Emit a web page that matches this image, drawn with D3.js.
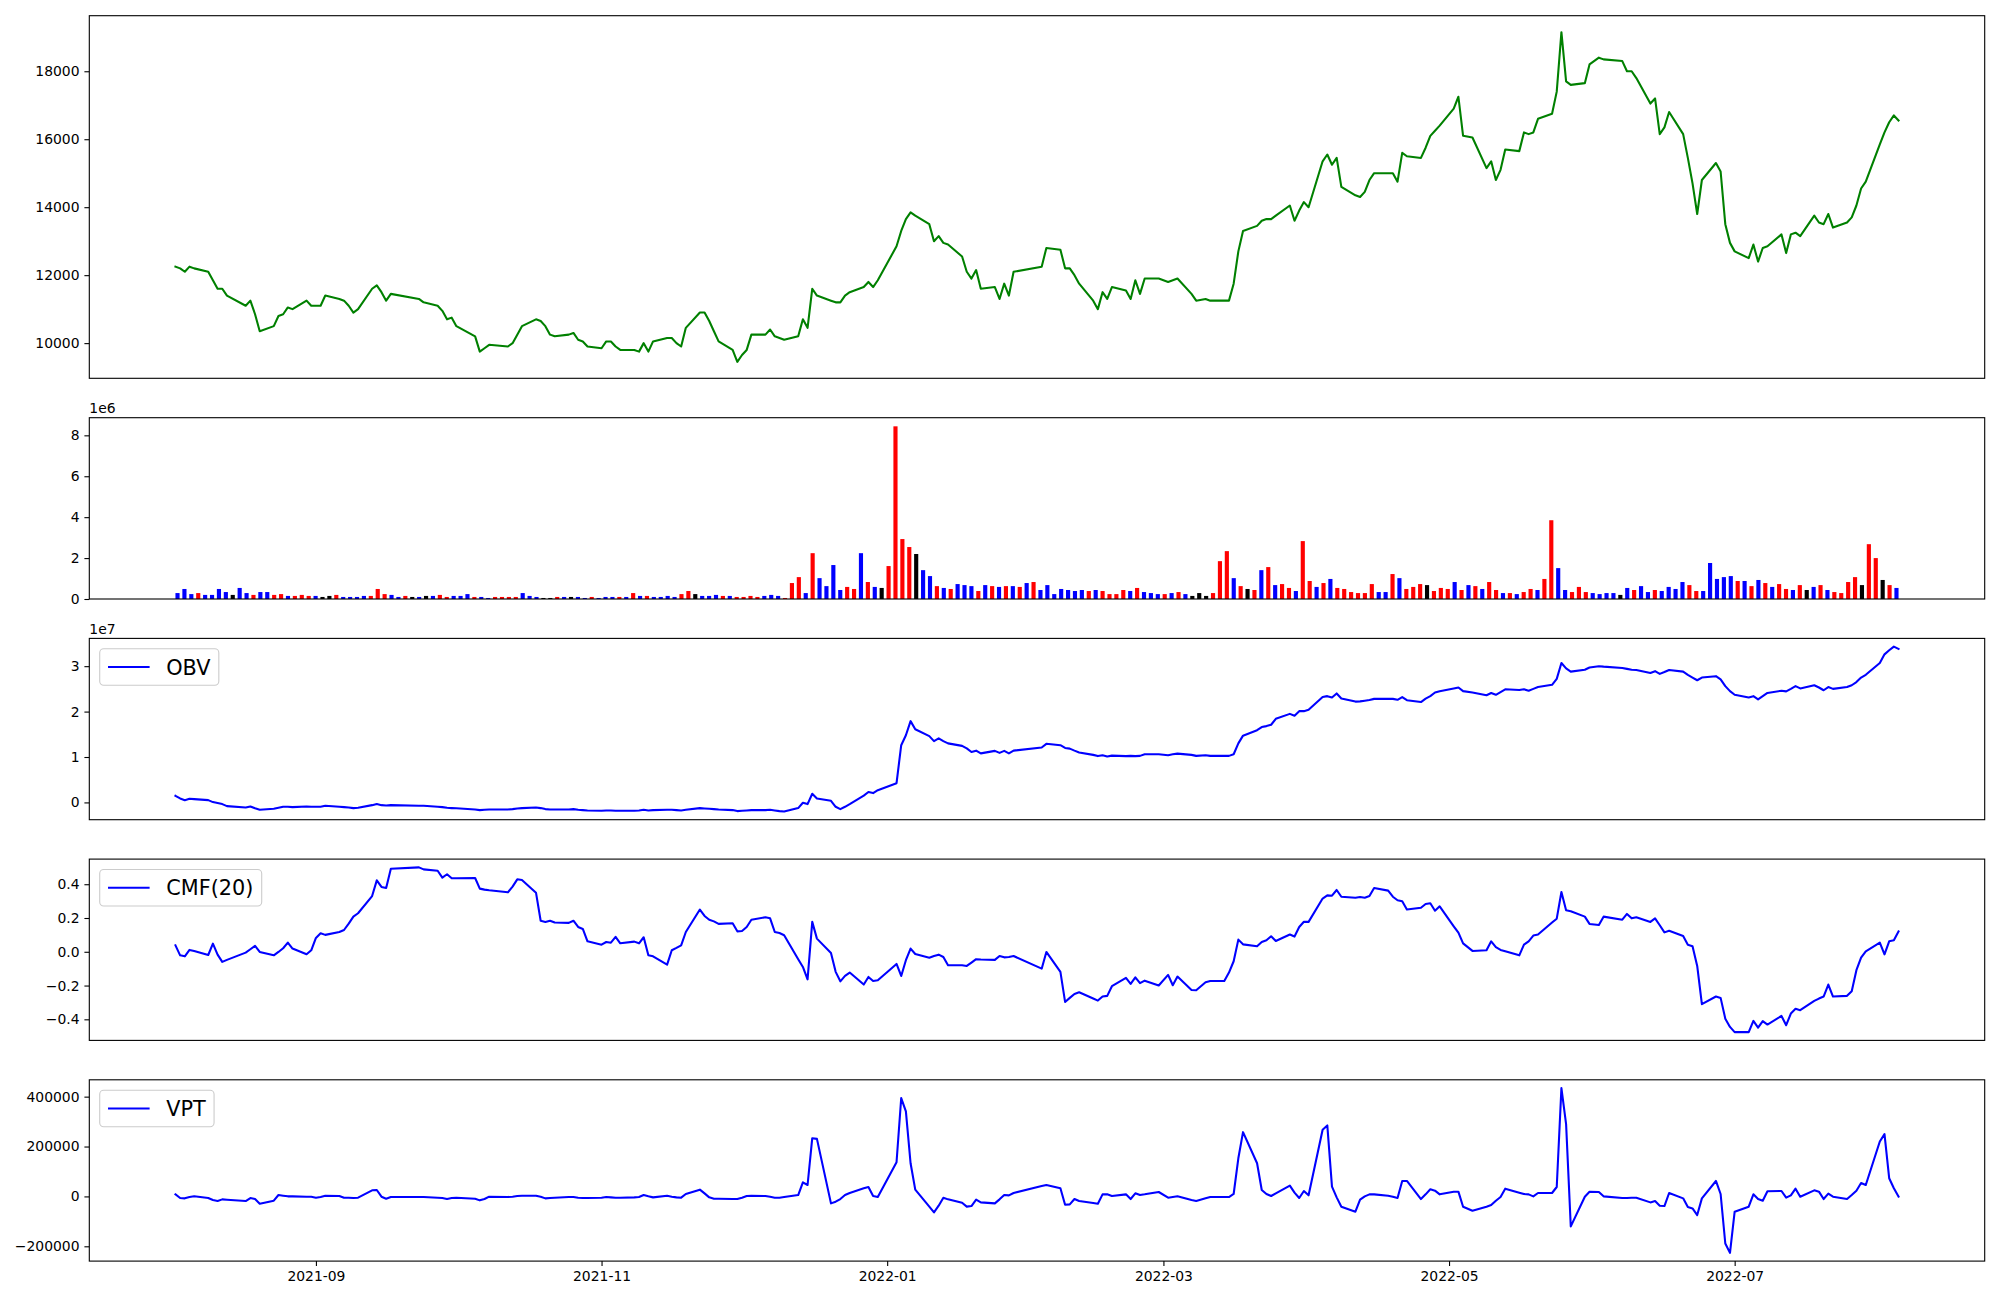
<!DOCTYPE html>
<html><head><meta charset="utf-8">
<script src="https://cdn.jsdelivr.net/npm/d3@7"></script>
<style>
html,body{margin:0;padding:0;background:#fff}
svg{display:block}
text{font-family:"DejaVu Sans",sans-serif}
</style>
</head><body>
<svg id="chart" width="2000" height="1300"></svg>
<script>
// ---------------- DATA ----------------
const dates = [
"2021-08-02","2021-08-03","2021-08-04","2021-08-05","2021-08-06","2021-08-09","2021-08-10","2021-08-11","2021-08-12","2021-08-13","2021-08-17","2021-08-18","2021-08-19","2021-08-20","2021-08-23","2021-08-24","2021-08-25","2021-08-26","2021-08-27","2021-08-30","2021-08-31",
"2021-09-01","2021-09-02","2021-09-03","2021-09-06","2021-09-07","2021-09-08","2021-09-09","2021-09-10","2021-09-13","2021-09-14","2021-09-15","2021-09-16","2021-09-17","2021-09-23","2021-09-24","2021-09-27","2021-09-28","2021-09-29","2021-09-30",
"2021-10-01","2021-10-05","2021-10-06","2021-10-07","2021-10-08","2021-10-12","2021-10-13","2021-10-14","2021-10-15","2021-10-18","2021-10-19","2021-10-20","2021-10-21","2021-10-22","2021-10-25","2021-10-26","2021-10-27","2021-10-28","2021-10-29",
"2021-11-01","2021-11-02","2021-11-03","2021-11-04","2021-11-05","2021-11-08","2021-11-09","2021-11-10","2021-11-11","2021-11-12","2021-11-15","2021-11-16","2021-11-17","2021-11-18","2021-11-19","2021-11-22","2021-11-23","2021-11-24","2021-11-25","2021-11-26","2021-11-29","2021-11-30",
"2021-12-01","2021-12-02","2021-12-03","2021-12-06","2021-12-07","2021-12-08","2021-12-09","2021-12-10","2021-12-13","2021-12-14","2021-12-15","2021-12-16","2021-12-17","2021-12-20","2021-12-21","2021-12-22","2021-12-23","2021-12-24","2021-12-27","2021-12-28","2021-12-29","2021-12-30",
"2022-01-03","2022-01-04","2022-01-05","2022-01-06","2022-01-07","2022-01-10","2022-01-11","2022-01-12","2022-01-13","2022-01-14","2022-01-17","2022-01-18","2022-01-19","2022-01-20","2022-01-21","2022-01-24","2022-01-25","2022-01-26","2022-01-27","2022-01-28",
"2022-02-03","2022-02-04","2022-02-07","2022-02-08","2022-02-09","2022-02-10","2022-02-11","2022-02-14","2022-02-15","2022-02-16","2022-02-17","2022-02-18","2022-02-21","2022-02-22","2022-02-23","2022-02-24","2022-02-25","2022-02-28",
"2022-03-02","2022-03-03","2022-03-04","2022-03-07","2022-03-08","2022-03-10","2022-03-11","2022-03-14","2022-03-15","2022-03-16","2022-03-17","2022-03-18","2022-03-21","2022-03-22","2022-03-23","2022-03-24","2022-03-25","2022-03-28","2022-03-29","2022-03-30","2022-03-31",
"2022-04-01","2022-04-04","2022-04-05","2022-04-06","2022-04-07","2022-04-08","2022-04-11","2022-04-12","2022-04-13","2022-04-14","2022-04-15","2022-04-18","2022-04-19","2022-04-20","2022-04-21","2022-04-22","2022-04-25","2022-04-26","2022-04-27","2022-04-28","2022-04-29",
"2022-05-02","2022-05-03","2022-05-04","2022-05-06","2022-05-09","2022-05-10","2022-05-11","2022-05-12","2022-05-13","2022-05-16","2022-05-17","2022-05-18","2022-05-19","2022-05-20","2022-05-23","2022-05-24","2022-05-25","2022-05-26","2022-05-27","2022-05-30","2022-05-31",
"2022-06-02","2022-06-03","2022-06-07","2022-06-08","2022-06-09","2022-06-10","2022-06-13","2022-06-14","2022-06-15","2022-06-16","2022-06-17","2022-06-20","2022-06-21","2022-06-22","2022-06-23","2022-06-24","2022-06-27","2022-06-28","2022-06-29","2022-06-30",
"2022-07-01","2022-07-04","2022-07-05","2022-07-06","2022-07-07","2022-07-08","2022-07-11","2022-07-12","2022-07-13","2022-07-14","2022-07-15","2022-07-18","2022-07-19","2022-07-20","2022-07-21","2022-07-22","2022-07-25","2022-07-26","2022-07-27","2022-07-28","2022-07-29",
"2022-08-01","2022-08-02","2022-08-03","2022-08-04","2022-08-05"
];

const closePrice = [
12250,12200,12100,12250,12200,12100,11850,11600,11600,11400,11100,11250,10850,10350,10500,10800,10850,11050,11000,11250,11100,
11100,11100,11400,11300,11250,11100,10900,11000,11600,11700,11500,11250,11450,11300,11200,11100,10950,10700,10750,
10500,10200,9750,9850,9950,9900,10000,10250,10500,10700,10650,10500,10250,10200,10250,10300,10100,10050,9900,
9850,10050,10050,9900,9800,9800,9750,10000,9750,10050,10150,10150,10000,9900,10450,10900,10900,10650,10350,10050,9800,9450,
9650,9800,10250,10250,10400,10200,10150,10100,10200,10700,10450,11600,11400,11250,11200,11200,11400,11500,11650,11800,11650,11850,
12850,13300,13650,13850,13750,13500,13000,13150,12950,12900,12550,12100,11900,12150,11600,11650,11300,11750,11400,12100,
12250,12800,12750,12200,12200,12000,11750,11250,11000,11500,11300,11650,11550,11300,11850,11450,11900,11900,
11800,11850,11900,11450,11250,11300,11250,11250,11250,11750,12700,13300,13450,13600,13650,13650,13750,14050,13600,13900,14150,
14000,15350,15550,15250,15450,14600,14350,14300,14450,14800,15000,15000,15000,14750,15600,15500,15450,15750,16100,16250,16400,
16900,17250,16100,16050,15150,15350,14800,15100,15700,15650,16200,16150,16200,16600,16750,17400,19150,17700,17600,17650,18200,
18400,18350,18300,18000,18000,17800,17050,17200,16150,16350,16800,16150,15450,14700,13800,14800,15300,15050,13500,12950,
12700,12500,12900,12400,12800,12850,13200,12650,13200,13250,13150,13750,13550,13500,13800,13400,13550,13700,14050,14550,14750,
15850,16200,16500,16700,16550
];

const volume = [
290000,490000,240000,290000,200000,200000,490000,340000,200000,540000,
290000,200000,340000,340000,200000,240000,150000,150000,200000,150000,
150000,100000,150000,200000,100000,100000,100000,150000,150000,490000,
240000,200000,100000,150000,100000,100000,150000,150000,200000,100000,
150000,150000,240000,100000,100000,50000,100000,100000,100000,100000,
290000,150000,100000,50000,50000,100000,100000,100000,100000,50000,
100000,50000,100000,100000,100000,100000,290000,150000,150000,100000,
100000,150000,100000,240000,390000,240000,150000,150000,200000,150000,
150000,100000,100000,150000,100000,150000,200000,150000,50000,780000,
1070000,290000,2240000,1020000,630000,1660000,440000,590000,490000,2240000,
830000,590000,540000,1610000,8440000,2930000,2540000,2200000,1410000,1120000,
630000,540000,490000,730000,680000,630000,390000,680000,630000,590000,
630000,630000,590000,780000,830000,440000,680000,240000,490000,440000,
390000,440000,390000,440000,390000,240000,240000,440000,390000,540000,
340000,290000,240000,240000,290000,340000,240000,150000,290000,150000,
290000,1850000,2340000,1020000,630000,490000,440000,1410000,1560000,680000,
730000,540000,390000,2830000,880000,590000,780000,980000,540000,490000,
340000,290000,290000,730000,340000,340000,1220000,1020000,490000,590000,
730000,680000,390000,540000,490000,830000,440000,680000,630000,490000,
830000,440000,290000,290000,240000,340000,490000,440000,980000,3850000,
1510000,440000,340000,590000,340000,290000,240000,290000,290000,200000,
540000,440000,630000,340000,440000,390000,590000,490000,830000,680000,
390000,390000,1760000,980000,1070000,1120000,880000,880000,630000,930000,
780000,590000,730000,490000,440000,680000,440000,590000,680000,440000,
340000,290000,830000,1070000,680000,2680000,2000000,930000,680000,540000
];

// 1 = up day, -1 = down day, 0 = unchanged
const direction = [
-1,-1,-1,1,-1,-1,-1,-1,0,-1,
-1,1,-1,-1,1,1,-1,1,1,1,
-1,0,0,1,-1,-1,-1,-1,1,1,
1,-1,-1,1,0,-1,0,-1,1,1,
-1,-1,-1,1,-1,-1,1,1,1,1,
-1,-1,-1,0,0,1,-1,0,-1,-1,
1,-1,-1,-1,1,-1,1,-1,1,-1,
-1,-1,-1,1,1,0,-1,-1,-1,1,
-1,1,1,1,1,-1,-1,-1,1,1,
1,-1,1,-1,-1,-1,-1,1,1,-1,
1,-1,0,1,1,1,1,0,-1,-1,
1,-1,1,-1,-1,-1,1,-1,1,-1,
1,-1,1,-1,1,-1,-1,-1,-1,-1,
-1,-1,1,-1,1,1,1,1,-1,1,
-1,-1,-1,1,-1,1,-1,0,0,0,
1,1,1,-1,1,0,1,-1,1,-1,
1,1,-1,1,1,-1,1,-1,1,1,
1,1,1,1,-1,-1,1,-1,1,1,
1,0,1,1,1,-1,1,-1,1,-1,
1,1,-1,1,-1,1,1,-1,1,1,
-1,-1,1,1,1,-1,-1,-1,-1,0,
-1,1,-1,-1,1,-1,-1,-1,-1,1,
1,-1,-1,-1,-1,-1,1,-1,1,-1,
1,-1,1,1,-1,1,0,-1,1,-1,
1,1,1,1,0,1,1,0,1,-1
];

const obv = [
1.46e6,0.87e6,0.5e6,0.8e6,0.73e6,0.5e6,0.07e6,-0.15e6,-0.37e6,-0.81e6,-1.1e6,-0.88e6,-1.3e6,-1.6e6,-1.4e6,-1.18e6,-0.96e6,-0.96e6,-1.03e6,-0.88e6,-0.96e6,
-0.96e6,-0.96e6,-0.74e6,-0.96e6,-1.03e6,-1.1e6,-1.25e6,-1.18e6,-0.6e6,-0.37e6,-0.6e6,-0.67e6,-0.6e6,-0.74e6,-0.74e6,-0.96e6,-1.03e6,-1.18e6,-1.25e6,
-1.3e6,-1.55e6,-1.69e6,-1.62e6,-1.55e6,-1.55e6,-1.47e6,-1.33e6,-1.25e6,-1.1e6,-1.25e6,-1.47e6,-1.55e6,-1.55e6,-1.55e6,-1.47e6,-1.62e6,-1.69e6,-1.76e6,
-1.84e6,-1.76e6,-1.76e6,-1.84e6,-1.84e6,-1.84e6,-1.76e6,-1.62e6,-1.76e6,-1.69e6,-1.62e6,-1.62e6,-1.69e6,-1.76e6,-1.62e6,-1.25e6,-1.33e6,-1.4e6,-1.47e6,-1.55e6,-1.69e6,-1.91e6,
-1.84e6,-1.76e6,-1.69e6,-1.69e6,-1.62e6,-1.76e6,-1.91e6,-1.99e6,-1.25e6,-0.08e6,-0.37e6,1.9e6,0.87e6,0.36e6,-0.96e6,-1.47e6,-0.96e6,-0.37e6,1.5e6,2.3e6,2.05e6,2.7e6,
4.24e6,12.6e6,14.8e6,17.9e6,16.1e6,14.6e6,13.5e6,14.1e6,13.5e6,13.0e6,12.45e6,11.9e6,11.1e6,11.4e6,10.8e6,11.35e6,10.9e6,11.35e6,10.8e6,11.4e6,
12.1e6,12.9e6,12.6e6,12.0e6,11.85e6,11.4e6,11.0e6,10.47e6,10.2e6,10.4e6,10.1e6,10.3e6,10.2e6,10.25e6,10.2e6,10.25e6,10.6e6,10.6e6,
10.4e6,10.6e6,10.75e6,10.47e6,10.25e6,10.4e6,10.25e6,10.25e6,10.25e6,10.6e6,13.0e6,14.7e6,15.9e6,16.6e6,16.8e6,17.1e6,18.4e6,19.5e6,19.1e6,20.1e6,20.1e6,
20.4e6,23.2e6,23.4e6,23.1e6,24.0e6,22.9e6,22.2e6,22.25e6,22.4e6,22.55e6,22.8e6,22.8e6,22.8e6,22.6e6,23.2e6,22.5e6,22.1e6,22.85e6,23.4e6,24.2e6,24.5e6,
25.1e6,25.3e6,24.5e6,24.2e6,23.6e6,24.1e6,23.7e6,24.3e6,24.9e6,24.75e6,24.9e6,24.6e6,25.0e6,25.4e6,25.9e6,27.2e6,30.7e6,29.5e6,28.8e6,29.2e6,29.7e6,
30.0e6,29.9e6,29.6e6,29.4e6,29.2e6,29.15e6,28.5e6,28.9e6,28.3e6,28.7e6,29.15e6,28.8e6,28.1e6,27.5e6,26.9e6,27.5e6,27.8e6,27.1e6,25.6e6,24.5e6,
23.7e6,23.1e6,23.4e6,22.7e6,23.4e6,24.1e6,24.6e6,24.45e6,25.0e6,25.6e6,25.1e6,25.8e6,25.3e6,24.7e6,25.4e6,25.0e6,25.4e6,25.8e6,26.5e6,27.5e6,28.1e6,
30.7e6,32.6e6,33.5e6,34.3e6,33.8e6
];

const cmf = [
0.038,-0.021,-0.027,0.011,0.005,-0.019,0.048,-0.017,-0.06,-0.048,-0.005,0.015,0.035,-0.001,-0.021,-0.001,0.021,0.054,0.019,-0.015,0.009,
0.082,0.11,0.10,0.117,0.129,0.167,0.208,0.228,0.33,0.423,0.384,0.378,0.492,0.50,0.488,0.48,0.439,0.459,0.435,
0.435,0.437,0.374,0.368,0.364,0.352,0.386,0.429,0.425,0.35,0.184,0.177,0.184,0.173,0.171,0.184,0.147,0.135,0.062,
0.042,0.058,0.054,0.088,0.05,0.06,0.05,0.086,-0.021,-0.027,-0.076,0.009,0.023,0.038,0.117,0.25,0.212,0.19,0.18,0.165,0.169,0.121,
0.123,0.147,0.19,0.204,0.198,0.117,0.111,0.098,-0.044,-0.09,-0.163,0.177,0.078,-0.007,-0.119,-0.175,-0.143,-0.123,-0.194,-0.149,-0.173,-0.169,
-0.072,-0.143,-0.05,0.019,-0.013,-0.035,-0.025,-0.017,-0.031,-0.08,-0.08,-0.084,-0.064,-0.044,-0.046,-0.048,-0.025,-0.033,-0.031,-0.025,
-0.1,-0.001,-0.119,-0.297,-0.273,-0.25,-0.24,-0.277,-0.289,-0.265,-0.261,-0.204,-0.155,-0.19,-0.151,-0.186,-0.171,-0.2,
-0.137,-0.198,-0.147,-0.226,-0.228,-0.18,-0.173,-0.173,-0.123,-0.056,0.072,0.044,0.033,0.058,0.068,0.092,0.064,0.102,0.09,0.147,0.178,
0.177,0.315,0.334,0.332,0.366,0.326,0.32,0.324,0.32,0.33,0.378,0.362,0.326,0.305,0.299,0.25,0.261,0.283,0.287,0.243,0.269,
0.151,0.113,0.05,0.005,0.009,0.062,0.027,0.011,0.003,-0.021,0.042,0.062,0.096,0.102,0.173,0.196,0.354,0.246,0.24,0.208,0.165,
0.159,0.208,0.19,0.224,0.198,0.204,0.177,0.198,0.157,0.115,0.125,0.094,0.042,0.033,-0.084,-0.31,-0.265,-0.273,-0.396,-0.445,
-0.476,-0.476,-0.409,-0.449,-0.411,-0.431,-0.38,-0.435,-0.366,-0.338,-0.346,-0.291,-0.277,-0.265,-0.194,-0.265,-0.261,-0.234,-0.109,-0.035,0.003,
0.054,-0.015,0.062,0.068,0.121
];

const vpt = [
8300,-6400,-7800,-2400,300,-6400,-14500,-18500,-11800,-13100,-18500,-6400,-10500,-29200,-17200,5600,3000,300,300,-1100,-1100,
-5100,-2400,3000,1600,-5100,-5100,-6400,-5100,24400,25700,-1100,-9100,-2400,-2400,-2400,-5100,-6400,-10500,-6400,
-5100,-9100,-15800,-10500,-1100,-2400,-1100,1600,3000,3000,-1100,-7800,-6400,-5100,-2400,-2400,-5100,-6400,-6400,
-5100,-2400,-3800,-5100,-5100,-3800,-2400,5600,300,-3800,3000,-1100,-3800,-5100,9700,27100,12300,-3800,-9100,-9100,-10500,-10500,
-5100,1600,3000,1600,-1100,-5100,-5100,-2400,5600,56500,45800,233500,230800,-27900,-21200,-10500,5600,13700,32400,37800,1600,-2400,
137000,394400,340800,133000,27100,-41000,-63800,-37300,-5100,-11800,-25200,-41000,-38600,-13100,-23900,-27900,-11800,5600,4300,13700,
41800,45800,32400,-33200,-31900,-10500,-18500,-26500,-29200,8300,8300,1600,8300,-10500,12300,5600,8300,17700,
-5100,-2400,300,-14500,-18500,-7800,-2400,-2400,-2400,9700,152800,257600,133000,25700,9700,1600,12300,43200,15000,-6400,21700,
4300,267000,284500,39000,-3800,-41300,-61400,-13100,300,8300,8300,3000,-1100,-6400,61900,61900,-10500,8300,28400,23000,8300,
19000,19000,-41300,-57400,-41300,-34600,-17200,-2400,31100,15000,9700,8300,300,13700,13700,37800,434500,289800,-120000,-1100,19000,
17700,300,-6400,-6400,-5100,-5100,-23900,-18500,-37300,-38600,13700,-7800,-42600,-48000,-74800,-7800,61900,9700,-188700,-226300,
-61400,-41300,8300,-10500,-17200,20400,21700,-5100,4300,31100,-1100,24400,19000,-10500,11000,-1100,-10500,5600,23000,53900,45800,
220200,249700,72900,32700,-1100
];

const xTickDates = ["2021-09-01","2021-11-01","2022-01-01","2022-03-01","2022-05-01","2022-07-01"];
const priceTicks = [10000,12000,14000,16000,18000];
const volumeTicks = [0,2e6,4e6,6e6,8e6];
const obvTicks = [0,1e7,2e7,3e7];
const cmfTicks = [-0.4,-0.2,0,0.2,0.4];
const vptTicks = [-200000,0,200000,400000];

// ---------------- LAYOUT ----------------
const svg = d3.select("#chart");
const L = 89.3, R = 1984.7;
const panels = [[15.7,378.3],[417.7,599.0],[638.4,819.7],[859.1,1040.4],[1079.8,1261.1]];
const TICK = 4.9, PAD = 4.9, FS = 13.9, LW = 2.08;
const minus = s => s.replace(/-/g, "\u2212");

const parse = d3.timeParse("%Y-%m-%d");
const t = dates.map(parse);
const tpad = (t[t.length-1] - t[0]) * 0.05;
const x = d3.scaleTime()
  .domain([new Date(+t[0] - tpad), new Date(+t[t.length-1] + tpad)])
  .range([L, R]);

const n = dates.length, bw = 0.6;
const ispan = (n - 1) + bw;
const xi = d3.scaleLinear()
  .domain([-bw/2 - 0.05*ispan, n - 1 + bw/2 + 0.05*ispan])
  .range([L, R]);

function padded(arr){
  const e = d3.extent(arr), r = e[1] - e[0];
  return [e[0] - 0.05*r, e[1] + 0.05*r];
}

function yAxis(g, y, ticks, fmt){
  const ax = d3.axisLeft(y).tickValues(ticks).tickFormat(fmt)
    .tickSize(TICK).tickPadding(PAD).tickSizeOuter(0);
  const a = g.append("g").attr("transform", `translate(${L},0)`).call(ax);
  a.select(".domain").remove();
  a.selectAll(".tick line").attr("stroke", "#000").attr("stroke-width", 1.1);
  a.selectAll(".tick text").attr("font-size", FS).attr("fill", "#000")
    .attr("font-family", "DejaVu Sans");
  return a;
}

function frame(g, top, bot){
  g.append("rect").attr("x", L).attr("y", top).attr("width", R - L).attr("height", bot - top)
    .attr("fill", "none").attr("stroke", "#000").attr("stroke-width", 1.1);
}

function legend(g, top, label){
  const fs = 20.8;
  const tmp = g.append("text").attr("font-size", fs).text(label);
  const tw = tmp.node().getComputedTextLength();
  tmp.remove();
  const bp = 0.4*fs, hl = 2.0*fs, hp = 0.8*fs;
  const bx = L + 0.5*fs, by = top + 0.5*fs, bwid = bp + hl + hp + tw + bp, bh = 36.5;
  g.append("rect").attr("x", bx).attr("y", by).attr("width", bwid).attr("height", bh)
    .attr("rx", 4).attr("ry", 4).attr("fill", "#fff").attr("fill-opacity", 0.8)
    .attr("stroke", "#cccccc").attr("stroke-width", 1.1);
  const cy = by + bh/2;
  g.append("line").attr("x1", bx + bp).attr("x2", bx + bp + hl).attr("y1", cy).attr("y2", cy)
    .attr("stroke", "#0000ff").attr("stroke-width", LW);
  g.append("text").attr("x", bx + bp + hl + hp).attr("y", cy).attr("dy", "0.36em")
    .attr("font-size", fs).attr("fill", "#000").text(label);
}

function offsetText(g, top, label){
  g.append("text").attr("x", L).attr("y", top - 4.6).attr("font-size", FS)
    .attr("fill", "#000").text(label);
}

function linePanel(idx, values, color, ticks, fmt){
  const [top, bot] = panels[idx];
  const g = svg.append("g");
  const y = d3.scaleLinear().domain(padded(values)).range([bot, top]);
  const line = d3.line().x((d,i) => x(t[i])).y(d => y(d));
  g.append("path").datum(values).attr("d", line).attr("fill", "none")
    .attr("stroke", color).attr("stroke-width", LW).attr("stroke-linejoin", "round")
    .attr("stroke-linecap", "square");
  yAxis(g, y, ticks, fmt);
  frame(g, top, bot);
  return g;
}

// Panel 1: price
linePanel(0, closePrice, "#008000", priceTicks, d => String(d));

// Panel 2: volume bars
{
  const [top, bot] = panels[1];
  const g = svg.append("g");
  const y = d3.scaleLinear().domain([0, d3.max(volume) * 1.05]).range([bot, top]);
  const colorOf = d => d > 0 ? "#ff0000" : (d < 0 ? "#0000ff" : "#000000");
  const w = xi(bw) - xi(0);
  g.selectAll("rect.bar").data(volume).enter().append("rect").attr("class", "bar")
    .attr("x", (d,i) => xi(i) - w/2).attr("width", w)
    .attr("y", d => y(d)).attr("height", d => y(0) - y(d))
    .attr("fill", (d,i) => colorOf(direction[i]));
  yAxis(g, y, volumeTicks, d => String(d / 1e6));
  frame(g, top, bot);
  offsetText(g, top, "1e6");
}

// Panel 3: OBV
{
  const g = linePanel(2, obv, "#0000ff", obvTicks, d => String(d / 1e7));
  offsetText(g, panels[2][0], "1e7");
  legend(g, panels[2][0], "OBV");
}

// Panel 4: CMF
{
  const g = linePanel(3, cmf, "#0000ff", cmfTicks, d => minus(d3.format(".1f")(d)));
  legend(g, panels[3][0], "CMF(20)");
}

// Panel 5: VPT + date axis
{
  const g = linePanel(4, vpt, "#0000ff", vptTicks, d => minus(String(d)));
  legend(g, panels[4][0], "VPT");
  const bot = panels[4][1];
  const ax = d3.axisBottom(x).tickValues(xTickDates.map(parse))
    .tickFormat(d3.timeFormat("%Y-%m")).tickSize(TICK).tickPadding(PAD).tickSizeOuter(0);
  const a = g.append("g").attr("transform", `translate(0,${bot})`).call(ax);
  a.select(".domain").remove();
  a.selectAll(".tick line").attr("stroke", "#000").attr("stroke-width", 1.1);
  a.selectAll(".tick text").attr("font-size", FS).attr("fill", "#000")
    .attr("font-family", "DejaVu Sans");
}
</script>
</body></html>
